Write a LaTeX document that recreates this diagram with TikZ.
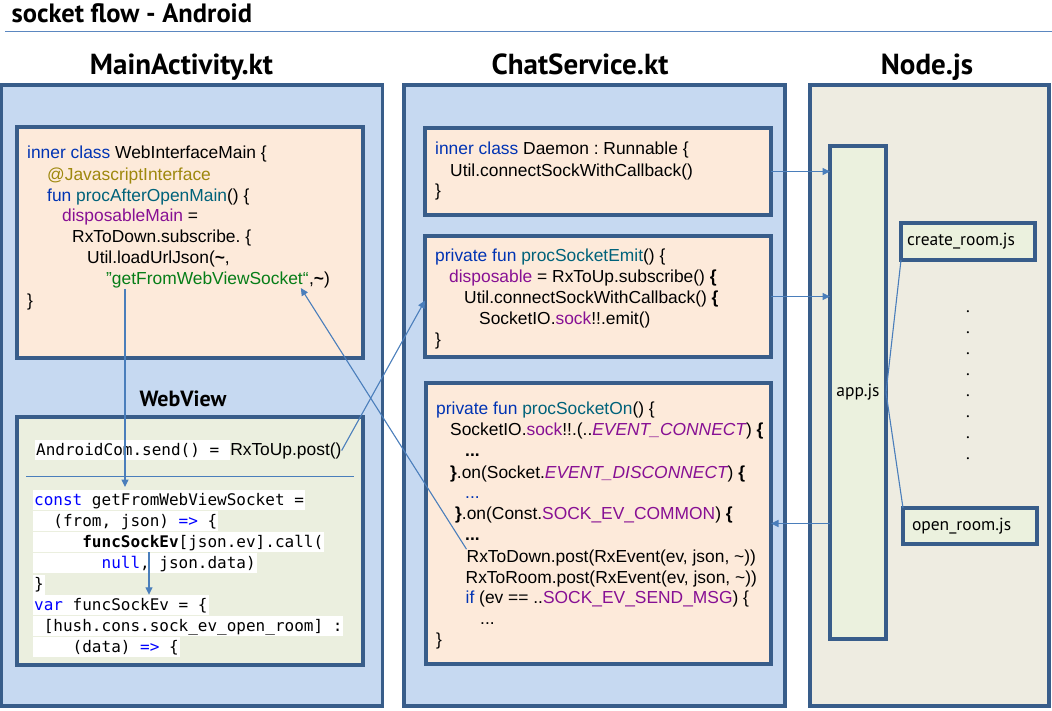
\documentclass[tikz,border=0pt]{standalone}
\usepackage{fontspec}
\setmainfont{Liberation Sans}
\newfontfamily\hfont{PT Sans}
\newfontfamily\mfont{DejaVu Sans Mono}
\usetikzlibrary{arrows.meta}
\definecolor{frame}{HTML}{385D8A}
\definecolor{bluefill}{HTML}{C6D9F1}
\definecolor{peach}{HTML}{FDEADA}
\definecolor{wvfill}{HTML}{EBEFDF}
\definecolor{tan}{HTML}{EEECE1}
\definecolor{jsfill}{HTML}{EBF1DE}
\definecolor{conn}{HTML}{4A7EBB}
\definecolor{tline}{HTML}{5B87C0}
\definecolor{ckwc}{HTML}{0033B3}
\definecolor{annc}{HTML}{9E880D}
\definecolor{fnc}{HTML}{00627A}
\definecolor{purc}{HTML}{871094}
\definecolor{strc}{HTML}{067D17}
\definecolor{mbc}{HTML}{0000FF}
\newcommand\ckw[1]{\textcolor{ckwc}{#1}}
\newcommand\cfn[1]{\textcolor{fnc}{#1}}
\newcommand\cpu[1]{\textcolor{purc}{#1}}
\newcommand\mblue[1]{\textcolor{mbc}{#1}}
\begin{document}
\frenchspacing
\begin{tikzpicture}[x=1pt,y=-1pt,
  box/.style={draw=frame,line width=3.1pt,inner sep=0pt,outer sep=0pt,anchor=north west},
  code/.style={anchor=base west,inner sep=0pt,font=\frenchspacing\fontsize{17.4}{21}\selectfont},
  mrow/.style={anchor=base west,fill=white,inner xsep=1pt,inner ysep=0pt,text height=15pt,text depth=5pt,font=\mfont\fontsize{16}{21}\selectfont},
  head/.style={anchor=base,inner sep=0pt,font=\hfont\bfseries\fontsize{29}{33}\selectfont},
  jslabel/.style={font=\hfont\fontsize{17.5}{21}\selectfont},
  arr/.style={draw=conn,line width=1.1pt,-{Triangle[length=7.5pt,width=7pt]}},
  ln/.style={draw=conn,line width=1.1pt}]
\useasboundingbox (0,0) rectangle (1052,711);
\fill[white] (0,0) rectangle (1052,711);

% title
\node[anchor=base west,inner sep=0pt,font=\hfont\bfseries\fontsize{26.5}{30}\selectfont] (title) at (11.5,22.5) {socket flow - Android};
\draw[tline,line width=1pt] (5,31.5) -- (1052,31.5);

% headings
\node[head] (h1) at (181.5,75) {MainActivity.kt};
\node[head] (h2) at (580,75) {ChatService.kt};
\node[head] (h3) at (927,75) {Node.js};

% panels
\node[box,fill=bluefill,minimum width=381pt,minimum height=621pt] (mainp) at (1.5,85) {};
\node[box,fill=bluefill,minimum width=381pt,minimum height=621pt] (chatp) at (404,85) {};
\node[box,fill=tan,minimum width=239pt,minimum height=621pt] (nodep) at (810,85) {};

% inner boxes
\node[box,fill=peach,minimum width=346pt,minimum height=231pt] (wim) at (17,127) {};
\node[box,fill=wvfill,minimum width=346pt,minimum height=248pt] (wv) at (17,417) {};
\node[box,fill=peach,minimum width=346pt,minimum height=87pt] (daemon) at (425,128) {};
\node[box,fill=peach,minimum width=346pt,minimum height=121pt] (emit) at (425,236) {};
\node[box,fill=peach,minimum width=345pt,minimum height=281pt] (on) at (426,383) {};
\node[box,fill=jsfill,minimum width=56pt,minimum height=493pt,jslabel] (appjs) at (830,146) {app.js};
\node[box,fill=jsfill,minimum width=134pt,minimum height=37pt,jslabel,text width=122pt,align=left,inner xsep=6pt] (cr) at (901,223) {create\_room.js};
\node[box,fill=jsfill,minimum width=134pt,minimum height=36pt,jslabel,text width=116pt,align=left,inner xsep=9pt] (orm) at (903,508) {open\_room.js};
\node[jslabel,align=center,inner sep=0pt] (dots) at (968,385) {.\\.\\.\\.\\.\\.\\.\\.};

% WebView label
\node[anchor=base,inner sep=0pt,font=\hfont\bfseries\fontsize{22}{26}\selectfont] (wvl) at (183,406.5) {WebView};

% WebInterfaceMain code
\node[code] (w1) at (27,159) {\ckw{inner class} WebInterfaceMain \{};
\node[code] (w2) at (47,180.5) {\textcolor{annc}{@JavascriptInterface}};
\node[code] (w3) at (47,201.5) {\ckw{fun} \cfn{procAfterOpenMain}() \{};
\node[code] (w4) at (62,222) {\cpu{disposableMain} =};
\node[code] (w5) at (72,243) {RxToDown.subscribe. \{};
\node[code] (w6) at (87,264) {Util.loadUrlJson(\textbf{\textasciitilde},};
\node[code] (w7) at (106,285) {\textcolor{strc}{"getFromWebViewSocket“}};
\node[code] (w7b) at (w7.base east) {,\textbf{\textasciitilde})};
\node[code] (w8) at (27,306) {\}};

% Daemon
\node[code] (d1) at (435,155) {\ckw{inner class} Daemon : Runnable \{};
\node[code] (d2) at (450,176.5) {Util.connectSockWithCallback()};
\node[code] (d3) at (435,197) {\}};

% Emit
\node[code] (e1) at (435,261.5) {\ckw{private fun} \cfn{procSocketEmit}() \{};
\node[code] (e2) at (449,283) {\cpu{disposable} = RxToUp.subscribe() \textbf{\{}};
\node[code] (e3) at (464,304) {Util.connectSockWithCallback() \textbf{\{}};
\node[code] (e4) at (479,324.5) {SocketIO.\cpu{sock}!!.emit()};
\node[code] (e5) at (435,345) {\}};

% On
\node[code] (o1) at (436,414.5) {\ckw{private fun} \cfn{procSocketOn}() \{};
\node[code] (o2) at (450,435.5) {SocketIO.\cpu{sock}!!.(..\cpu{\itshape EVENT\_CONNECT}) \textbf{\{}};
\node[code] (o3) at (465,456.5) {\textbf{...}};
\node[code] (o4) at (450,478) {\textbf{\}}.on(Socket.\cpu{\itshape EVENT\_DISCONNECT}) \textbf{\{}};
\node[code] (o5) at (465,498.5) {\ckw{...}};
\node[code] (o6) at (455,519.5) {\textbf{\}}.on(Const.\cpu{SOCK\_EV\_COMMON}) \textbf{\{}};
\node[code] (o7) at (465,540.5) {\textbf{...}};
\node[code] (o8) at (466.5,562) {RxToDown.post(RxEvent(ev, json, \textasciitilde))};
\node[code] (o9) at (465.5,583) {RxToRoom.post(RxEvent(ev, json, \textasciitilde))};
\node[code] (o10) at (465.5,603.5) {\ckw{if} (ev == ..\cpu{SOCK\_EV\_SEND\_MSG}) \{};
\node[code] (o11) at (480,624) {...};
\node[code] (o12) at (436,645.5) {\}};

% WebView code
\node[mrow] (aw) at (35,455) {AndroidCom.send() =\hphantom{x}};
\node[code] (rxup) at (aw.base east) {RxToUp.post()};
\draw[conn,line width=1pt] (26,476) -- (354,476);
\node[mrow] (m1) at (33,505) {\mblue{const} getFromWebViewSocket =};
\node[mrow] (m2) at (33,526) {\ \ (from, json) \mblue{=>} \{};
\node[mrow] (m3) at (33,547) {\ \ \ \ \ \textbf{funcSockEv}[json.ev].call(};
\node[mrow] (m4) at (33,568) {\ \ \ \ \ \ \ \mblue{null}, json.data)};
\node[mrow] (m5) at (33,589.5) {\}};
\node[mrow] (m6) at (33,610) {\mblue{var} funcSockEv = \{};
\node[mrow] (m7) at (33,631) {\ [hush.cons.sock\_ev\_open\_room] :};
\node[mrow] (m8) at (33,652) {\ \ \ \ (data) \mblue{=>} \{};

% connectors
\draw[arr] (daemon.east) -- (daemon.east -| appjs.west);
\draw[arr] (emit.east) -- (emit.east -| appjs.west);
\draw[arr] (appjs.west |- on.east) -- (on.east);
\draw[ln] (appjs.east) -- (cr.south west);
\draw[ln] (appjs.east) -- (orm.north west);
\coordinate (a4s) at (125,289);
\coordinate (a4e) at (125,487);
\draw[arr] (a4s) -- (a4e);
\coordinate (a5x) at (149,0);
\draw[arr] (a5x |- m3.south) -- (a5x |- m6.north);
\draw[arr] (rxup.east) -- ([yshift=-4pt]emit.west);
\draw[arr] (o8.north west) -- ([xshift=-8pt,yshift=-3pt]w7.base east);
\end{tikzpicture}
\end{document}
